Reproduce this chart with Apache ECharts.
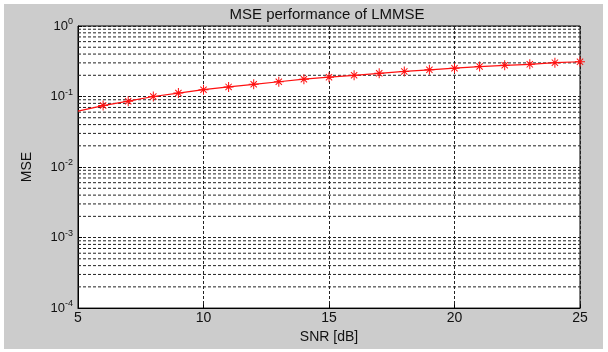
<!doctype html>
<html>
<head>
<meta charset="UTF-8">
<title>MSE performance of LMMSE</title>
<script src="https://cdn.jsdelivr.net/npm/echarts@6/dist/echarts.min.js"></script>
<style>
    html, body { margin: 0; padding: 0; background: #fff; }
    #chart { position: absolute; left: 4px; top: 4px; width: 599px; height: 345px; }
</style>
</head>
<body>
<div id="chart"></div>
<script type="text/javascript">
    // data
    var snr = [5, 6, 7, 8, 9, 10, 11, 12, 13, 14, 15, 16, 17, 18, 19, 20, 21, 22, 23, 24, 25];
    var mse = [0.062, 0.0745, 0.086, 0.100, 0.112, 0.125, 0.137, 0.149, 0.162, 0.176, 0.188,
               0.200, 0.213, 0.227, 0.239, 0.252, 0.266, 0.277, 0.286, 0.302, 0.311];
    var xTicks = [5, 10, 15, 20, 25];
    var decades = [-4, -3, -2, -1];
    var minorMults = [2, 3, 4, 5, 6, 7, 8, 9];

    var font = 'Liberation Sans, Arial, sans-serif';
    var gridLine = { color: '#222', type: [3, 2], width: 1 };

    // asterisk marker like matlab '*'
    var star = 'path://M4.5,0H5.5V10H4.5Z M0,4.5H10V5.5H0Z M1.5,2.2L2.2,1.5L8.5,7.8L7.8,8.5Z M7.8,1.5L8.5,2.2L2.2,8.5L1.5,7.8Z';

    var points = [];
    for (var i = 0; i < snr.length; i++) {
        var p = { value: [snr[i], mse[i]] };
        if (i === 0) p.symbol = 'none'; // no marker drawn at the first point
        points.push(p);
    }

    // minor log grid lines (2..9 x 10^d), one small line series each
    var gridSeries = [];
    for (var d = 0; d < decades.length; d++) {
        for (var k = 0; k < minorMults.length; k++) {
            var v = minorMults[k] * Math.pow(10, decades[d]);
            gridSeries.push({
                type: 'line',
                silent: true,
                z: 1,
                symbol: 'none',
                lineStyle: gridLine,
                data: [[xTicks[0], v], [xTicks[xTicks.length - 1], v]]
            });
        }
    }

    var myChart = echarts.init(document.getElementById('chart'));
    var option = {
        backgroundColor: '#cccccc',
        animation: false,
        title: {
            text: 'MSE performance of LMMSE',
            left: 323,
            top: 3,
            padding: 0,
            textAlign: 'center',
            textStyle: { fontFamily: font, fontSize: 15, fontWeight: 'normal', color: '#111' }
        },
        grid: {
            left: 74, right: 23, top: 22, bottom: 31,
            show: true,
            backgroundColor: '#fff',
            borderColor: '#000',
            borderWidth: 1
        },
        xAxis: {
            type: 'value',
            min: 5, max: 25, interval: 5,
            name: 'SNR [dB]',
            nameLocation: 'middle',
            nameGap: 15,
            nameTextStyle: { fontFamily: font, fontSize: 14, color: '#111' },
            axisLine: { lineStyle: { color: '#000' } },
            axisTick: { inside: true, length: 4, lineStyle: { color: '#000' } },
            axisLabel: {
                fontFamily: font, fontSize: 14, color: '#111', margin: 3,
                formatter: function (v) { return xTicks.indexOf(v) >= 0 ? String(v) : ''; }
            },
            splitLine: { show: true, lineStyle: gridLine }
        },
        yAxis: {
            type: 'log',
            logBase: 10,
            min: 0.0001, max: 1,
            name: 'MSE',
            nameLocation: 'middle',
            nameGap: 44,
            nameTextStyle: { fontFamily: font, fontSize: 14, color: '#111' },
            axisLine: { lineStyle: { color: '#000' } },
            axisTick: { inside: true, length: 4, lineStyle: { color: '#000' } },
            axisLabel: {
                margin: 5,
                formatter: function (v) {
                    var e = Math.round(Math.log(v) / Math.LN10);
                    return '{b|10}{e|' + e + '}';
                },
                rich: {
                    b: { fontFamily: font, fontSize: 13, color: '#111' },
                    e: { fontFamily: font, fontSize: 9, color: '#111', padding: [0, 0, 9, 0] }
                }
            },
            splitLine: { show: true, lineStyle: gridLine }
        },
        series: gridSeries.concat([
            {
                type: 'line',
                z: 5,
                data: points,
                showAllSymbol: true,
                symbol: star,
                symbolSize: 10,
                itemStyle: { color: '#ff1010' },
                lineStyle: { color: '#ff1010', width: 1.2 }
            }
        ])
    };
    myChart.setOption(option);
</script>
</body>
</html>
